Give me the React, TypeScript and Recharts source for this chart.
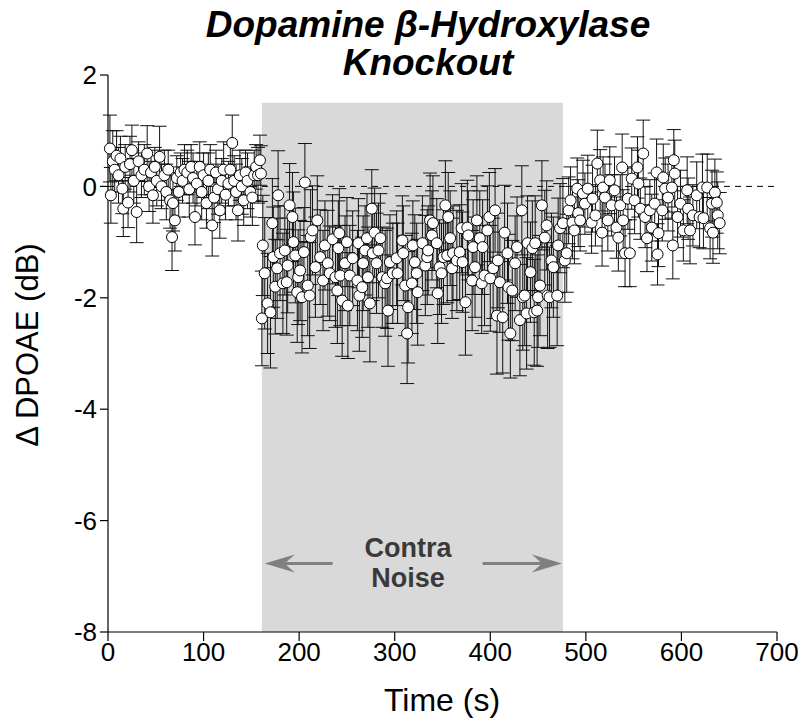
import React from "react";
import {
  ScatterChart,
  Scatter,
  XAxis,
  YAxis,
  ErrorBar,
  ReferenceArea,
  ReferenceLine,
  ReferenceDot,
} from "recharts";

// [time (s), delta DPOAE (dB), error (dB)]
type Pt = [number, number, number];

const prePoints: Pt[] = [
  [2, 0.68, 0.6], [3, -0.16, 0.5], [5, 0.45, 0.55], [7, 0.3, 0.4], [9, 0.55, 0.45],
  [11, 0.2, 0.5], [13, 0.5, 0.4], [15, -0.04, 0.45], [16, -0.4, 0.5], [18, 0.35, 0.4],
  [21, -0.29, 0.45], [23, 0.4, 0.5], [25, 0.65, 0.45], [27, 0.1, 0.4], [30, -0.46, 0.55],
  [32, 0.45, 0.35], [35, 0.2, 0.4], [38, 0.3, 0.45], [41, 0.59, 0.5], [43, 0.0, 0.45],
  [45, 0.25, 0.4], [47, -0.16, 0.5], [49, 0.35, 0.35], [51, 0.1, 0.45], [54, 0.53, 0.55],
  [56, 0.0, 0.4], [59, 0.2, 0.45], [61, -0.1, 0.5], [63, 0.3, 0.35], [65, -0.25, 0.5],
  [67, -0.91, 0.6], [68, -0.3, 0.5], [70, -0.61, 0.55], [72, 0.15, 0.4], [74, -0.1, 0.45],
  [76, 0.25, 0.35], [78, 0.1, 0.4], [80, 0.3, 0.45], [83, 0.25, 0.4], [85, -0.05, 0.5],
  [87, 0.35, 0.4], [89, 0.15, 0.45], [91, -0.55, 0.5], [93, 0.05, 0.4], [96, 0.35, 0.45],
  [98, -0.1, 0.5], [100, 0.2, 0.4], [103, -0.3, 0.45], [105, 0.1, 0.5], [107, 0.3, 0.45],
  [109, -0.7, 0.55], [111, -0.2, 0.45], [113, 0.25, 0.4], [115, -0.05, 0.45], [117, -0.43, 0.5],
  [119, 0.1, 0.4], [121, 0.3, 0.5], [123, -0.15, 0.45], [126, 0.05, 0.4], [128, 0.3, 0.45],
  [130, 0.78, 0.5], [132, 0.1, 0.45], [134, -0.1, 0.5], [136, -0.43, 0.55], [138, 0.2, 0.45],
  [140, 0.0, 0.5], [142, -0.25, 0.45], [144, 0.25, 0.4], [146, 0.1, 0.5], [149, -0.1, 0.45],
  [151, -0.2, 0.5], [153, 0.2, 0.45], [155, 0.35, 0.4], [157, 0.2, 0.5], [159, 0.47, 0.45],
  [160, 0.23, 0.5],
];

const noisePoints: Pt[] = [
  [161, -2.37, 0.85], [162, -1.06, 0.9], [164, -1.56, 1.0], [167, -2.1, 0.9], [170, -2.26, 1.0],
  [172, -0.66, 0.8], [173, -1.27, 0.9], [175, -1.8, 0.85], [177, -1.47, 0.9], [178, -0.16, 0.8],
  [180, -1.2, 0.85], [183, -1.74, 0.9], [185, -1.15, 0.8], [187, -1.72, 0.95], [188, -1.42, 0.85],
  [190, -0.34, 0.75], [193, -0.55, 0.8], [194, -1.0, 0.9], [196, -1.24, 0.85], [198, -1.9, 0.9],
  [199, -1.63, 0.85], [201, -1.51, 0.9], [203, -1.99, 1.0], [205, -1.18, 0.8], [206, 0.07, 0.7],
  [209, -1.78, 0.9], [211, -1.96, 0.95], [212, -0.91, 0.85], [214, -0.79, 0.8], [217, -1.45, 0.9],
  [219, -0.61, 0.8], [222, -1.27, 0.85], [225, -1.69, 0.9], [227, -1.06, 0.8], [230, -1.38, 0.95],
  [232, -1.56, 0.85], [235, -0.95, 0.8], [238, -1.63, 0.9], [240, -1.87, 0.95], [241, -1.11, 0.85],
  [242, -0.84, 0.8], [243, -1.6, 0.9], [245, -2.05, 1.0], [248, -1.38, 0.85], [250, -1.0, 0.8],
  [251, -2.14, 0.95], [253, -1.6, 0.9], [256, -1.29, 0.85], [261, -1.69, 0.9], [262, -1.02, 0.8],
  [263, -1.96, 1.0], [266, -1.81, 0.9], [267, -1.38, 0.85], [269, -1.15, 0.8], [271, -0.93, 0.8],
  [272, -1.63, 0.9], [274, -2.1, 1.05], [276, -0.4, 0.7], [277, -1.2, 0.85], [279, -0.83, 0.8],
  [281, -1.38, 0.9], [283, -1.15, 0.85], [285, -0.93, 0.8], [287, -1.63, 0.9], [290, -1.74, 0.95],
  [292, -1.65, 0.9], [293, -2.23, 1.0], [295, -1.36, 0.85], [298, -1.56, 0.9], [302, -1.29, 0.85],
  [303, -1.56, 0.9], [308, -0.97, 0.8], [309, -1.2, 0.85], [311, -1.78, 0.9], [313, -2.64, 0.9],
  [314, -2.17, 1.0], [318, -1.74, 0.9], [319, -1.06, 0.8], [321, -1.36, 0.85], [323, -1.56, 0.9],
  [324, -1.9, 0.95], [329, -1.02, 0.85], [332, -1.42, 0.9], [334, -1.27, 0.85], [335, -1.15, 0.8],
  [337, -0.61, 0.85], [339, -0.88, 0.8], [340, -0.66, 0.85], [344, -1.02, 0.8], [345, -1.92, 0.9],
  [347, -1.45, 0.85], [349, -1.56, 0.9], [351, -1.27, 0.85], [353, -0.34, 0.8], [355, -1.24, 0.85],
  [356, -0.55, 0.8], [358, -0.93, 0.85], [360, -1.47, 0.9], [361, -1.2, 0.85], [365, -1.33, 0.9],
  [368, -1.18, 0.85], [370, -0.75, 0.8], [371, -1.36, 0.9], [374, -2.08, 0.95], [376, -0.74, 0.85],
  [377, -0.88, 0.8], [381, -1.69, 0.9], [382, -1.09, 0.85], [384, -1.45, 0.9], [386, -0.61, 0.8],
  [389, -0.93, 0.85], [391, -1.74, 0.9], [392, -1.09, 0.85], [394, -1.6, 0.9], [397, -0.79, 0.8],
  [399, -0.55, 0.8], [400, -1.65, 0.95], [403, -1.47, 0.9], [405, -0.43, 0.75], [407, -2.32, 1.05],
  [408, -1.33, 0.85], [410, -1.72, 0.9], [413, -2.35, 1.0], [415, -0.83, 0.85], [418, -1.2, 0.9],
  [419, -1.81, 0.95], [421, -2.64, 0.8], [423, -1.87, 0.9], [426, -1.38, 0.85], [428, -1.09, 0.9],
  [431, -2.4, 1.0], [433, -0.43, 0.8], [434, -1.99, 0.95], [436, -1.96, 0.9], [438, -2.28, 1.0],
  [439, -1.02, 0.85], [442, -1.54, 0.9], [444, -1.11, 0.85], [446, -2.26, 0.95], [447, -1.02, 0.85],
  [449, -2.23, 1.0], [450, -1.99, 0.9], [452, -1.78, 0.9], [454, -0.34, 0.8], [457, -0.92, 0.85],
  [459, -0.7, 0.8], [460, -1.96, 0.95], [462, -1.99, 0.9], [464, -1.33, 0.85], [466, -1.45, 0.9],
  [470, -1.96, 0.9], [471, -1.06, 0.85], [473, -0.75, 0.8], [476, -0.66, 0.8],
];

const postPoints: Pt[] = [
  [478, -1.33, 0.75], [480, -1.2, 0.7], [482, -0.43, 0.6], [484, -0.25, 0.6], [486, -0.65, 0.65],
  [488, -0.79, 0.6], [491, -0.04, 0.55], [492, -0.48, 0.6], [494, -0.61, 0.55], [497, -0.13, 0.6],
  [499, -0.31, 0.55], [502, -0.04, 0.6], [506, -0.65, 0.55], [507, -0.22, 0.6], [510, -0.52, 0.55],
  [512, 0.41, 0.6], [515, 0.11, 0.55], [517, -0.83, 0.6], [518, -0.02, 0.55], [520, -0.2, 0.6],
  [523, -0.61, 0.55], [525, 0.11, 0.6], [527, -0.34, 0.55], [530, -0.07, 0.6], [532, -0.74, 0.55],
  [534, -0.92, 0.6], [536, -0.34, 0.55], [538, 0.34, 0.6], [539, -0.61, 0.55], [541, -1.2, 0.6],
  [544, -0.22, 0.55], [546, -1.2, 0.6], [548, 0.14, 0.55], [551, -0.25, 0.6], [554, 0.34, 0.55],
  [555, 0.05, 0.6], [557, -0.4, 0.55], [560, 0.59, 0.6], [562, -0.55, 0.55], [564, -0.93, 0.6],
  [567, -0.43, 0.55], [569, -0.74, 0.6], [572, -0.31, 0.55], [574, 0.25, 0.6], [575, -1.22, 0.55],
  [576, -0.84, 0.6], [580, -0.43, 0.55], [581, 0.16, 0.6], [583, -0.04, 0.55], [586, -0.2, 0.6],
  [590, -0.02, 0.55], [591, -1.06, 0.6], [592, 0.47, 0.55], [593, 0.23, 0.6], [596, -0.55, 0.55],
  [599, -0.31, 0.6], [602, -0.79, 0.55], [606, -0.07, 0.6], [607, -0.4, 0.55], [609, -0.79, 0.6],
  [612, -0.52, 0.55], [616, -0.16, 0.6], [619, -0.55, 0.55], [622, -0.02, 0.6], [623, -0.57, 0.55],
  [627, -0.02, 0.6], [630, -0.75, 0.55], [632, -0.31, 0.6], [633, -0.83, 0.55], [635, -0.11, 0.6],
  [637, -0.29, 0.55], [638, -0.52, 0.6], [640, -0.66, 0.55],
];

const xTicks = [0, 100, 200, 300, 400, 500, 600, 700];
const yTicks = [-8, -6, -4, -2, 0, 2];
const noiseStart = 161;
const noiseEnd = 476;
const noiseTop = 1.5;

const data = [...prePoints, ...noisePoints, ...postPoints].map(([t, v, e]) => ({ t, v, err: e }));

const font = "'Liberation Sans', Arial, Helvetica, sans-serif";

const Dot = (props: any) => (
  <circle cx={props.cx} cy={props.cy} r={5.5} fill="#fff" stroke="#000" strokeWidth={1} />
);

const arrowShape = (dir: "left" | "right") => (props: any) => {
  const { x1, y1, x2, y2 } = props;
  const tip = dir === "left" ? Math.min(x1, x2) : Math.max(x1, x2);
  const tail = dir === "left" ? Math.max(x1, x2) : Math.min(x1, x2);
  const y = y1 ?? y2;
  const s = dir === "left" ? 1 : -1;
  const head = 30;
  return (
    <g>
      <line x1={tail} y1={y} x2={tip + s * 20} y2={y} stroke="#808080" strokeWidth={3} />
      <path
        d={`M${tip},${y} L${tip + s * head},${y - 9} L${tip + s * 20},${y} L${tip + s * head},${y + 9} Z`}
        fill="#808080"
      />
    </g>
  );
};

const NoiseLabel = (props: any) => {
  const { viewBox } = props;
  const cx = viewBox.x + (viewBox.width || 0) / 2;
  const cy = viewBox.y + (viewBox.height || 0) / 2;
  return (
    <text
      x={cx}
      y={cy}
      textAnchor="middle"
      fontFamily={font}
      fontWeight="bold"
      fontSize={27}
      fill="#3a3a3a"
    >
      <tspan x={cx} dy={-6}>Contra</tspan>
      <tspan x={cx} dy={30}>Noise</tspan>
    </text>
  );
};

export default function App() {
  return (
    <div style={{ position: "absolute", left: 0, top: 0, width: 807, height: 726, background: "#fff" }}>
      <div
        style={{
          position: "absolute",
          left: 178,
          top: 6,
          width: 500,
          textAlign: "center",
          fontFamily: font,
          fontWeight: "bold",
          fontStyle: "italic",
          fontSize: 37,
          lineHeight: "38px",
          color: "#000",
        }}
      >
        Dopamine β-Hydroxylase
        <br />
        Knockout
      </div>
      <div
        style={{
          position: "absolute",
          left: 28,
          top: 345,
          transform: "translate(-50%, -50%) rotate(-90deg)",
          whiteSpace: "nowrap",
          fontFamily: font,
          fontSize: 31,
          color: "#000",
        }}
      >
        Δ DPOAE (dB)
      </div>
      <div
        style={{
          position: "absolute",
          left: 442,
          top: 700,
          transform: "translate(-50%, -50%)",
          whiteSpace: "nowrap",
          fontFamily: font,
          fontSize: 32,
          color: "#000",
        }}
      >
        Time (s)
      </div>
      <ScatterChart width={807} height={726} margin={{ top: 75, right: 30, bottom: 0, left: 0 }}>
        <ReferenceArea
          x1={noiseStart}
          x2={noiseEnd}
          y1={-8}
          y2={noiseTop}
          fill="#d9d9d9"
          fillOpacity={1}
          stroke="none"
          ifOverflow="visible"
        />
        <ReferenceLine y={0} stroke="#000" strokeWidth={1} strokeDasharray="6 5" />
        <ReferenceLine
          segment={[{ x: 164, y: -6.77 }, { x: 235, y: -6.77 }]}
          shape={arrowShape("left")}
        />
        <ReferenceLine
          segment={[{ x: 392, y: -6.77 }, { x: 475, y: -6.77 }]}
          shape={arrowShape("right")}
        />
        <ReferenceDot x={314} y={-6.77} r={0} fill="none" stroke="none" label={<NoiseLabel />} />
        <XAxis
          type="number"
          dataKey="t"
          domain={[0, 700]}
          ticks={xTicks}
          interval={0}
          axisLine={{ stroke: "#000", strokeWidth: 1.2 }}
          tickLine={{ stroke: "#000", strokeWidth: 1.2 }}
          tickSize={9}
          tick={{ fill: "#000", fontSize: 26, fontFamily: font }}
          tickMargin={2}
          height={94}
        />
        <YAxis
          type="number"
          dataKey="v"
          domain={[-8, 2]}
          ticks={yTicks}
          interval={0}
          axisLine={{ stroke: "#000", strokeWidth: 1.2 }}
          tickLine={{ stroke: "#000", strokeWidth: 1.2 }}
          tickSize={8}
          tick={{ fill: "#000", fontSize: 26, fontFamily: font }}
          tickMargin={3}
          width={108}
        />
        <Scatter data={data} shape={<Dot />} isAnimationActive={false}>
          <ErrorBar dataKey="err" direction="y" width={7} stroke="#111" strokeWidth={1} />
        </Scatter>
      </ScatterChart>
    </div>
  );
}
